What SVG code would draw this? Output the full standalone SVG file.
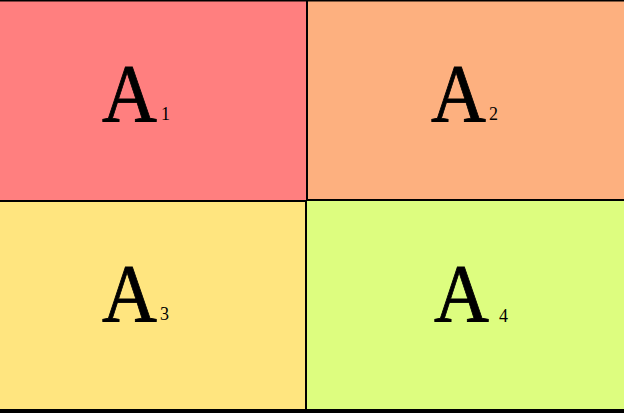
<svg xmlns="http://www.w3.org/2000/svg" width="624" height="413" viewBox="0 0 624 413">
<style>
.big{font-family:"Liberation Serif","Times New Roman",serif;font-size:80px;fill:#000;stroke:#000;stroke-width:0.8}
.sub{font-family:"Liberation Serif","Times New Roman",serif;font-size:18px;fill:#000}
.ln{stroke:#000;stroke-width:2;fill:none}
</style>
<rect width="624" height="413" fill="#fff"/>
<g id="A1"><rect x="0" y="0" width="307" height="201" fill="#FF7F7F"/><text class="big" transform="translate(102,121) scale(0.95,1.04)">A</text><text class="sub" x="161" y="120">1</text></g>
<g id="A2"><rect x="307" y="0" width="317" height="200" fill="#FDB07F"/><text class="big" transform="translate(431,121) scale(0.95,1.04)">A</text><text class="sub" x="489" y="120">2</text></g>
<g id="A3"><rect x="0" y="201" width="306" height="209" fill="#FFE57F"/><text class="big" transform="translate(102,321) scale(0.95,1.04)">A</text><text class="sub" x="160" y="320">3</text></g>
<g id="A4"><rect x="306" y="200" width="318" height="210" fill="#DDFD7F"/><text class="big" transform="translate(434,321) scale(0.95,1.04)">A</text><text class="sub" x="499" y="322">4</text></g>
<g id="connectors">
<line class="ln" x1="0" y1="0.5" x2="624" y2="0.5" stroke-width="1"/>
<line class="ln" x1="307" y1="0" x2="307" y2="200"/>
<line class="ln" x1="306" y1="200" x2="306" y2="413"/>
<line class="ln" x1="0" y1="201" x2="307" y2="201"/>
<line class="ln" x1="306" y1="200" x2="624" y2="200"/>
<rect x="0" y="409" width="624" height="4" fill="#000"/>
</g>
</svg>
